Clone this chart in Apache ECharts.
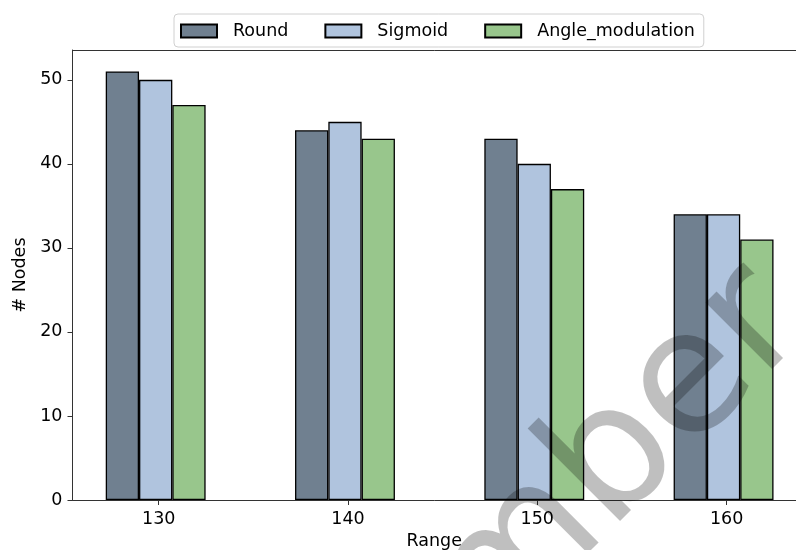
<!DOCTYPE html>
<html>
<head>
<meta charset="utf-8">
<script src="https://cdn.jsdelivr.net/npm/echarts@6/dist/echarts.min.js"></script>
<style>html,body{margin:0;padding:0;background:#fff}#c{width:796px;height:550px}</style>
</head>
<body>
<div id="c"></div>
<script>
const categories = [130, 140, 150, 160];
const roundVals = [51, 44, 43, 34];
const sigmoidVals = [50, 45, 40, 34];
const angleVals = [47, 43, 37, 31];
const yTicks = [0, 10, 20, 30, 40, 50];
const seriesNames = ['Round', 'Sigmoid', 'Angle_modulation'];
const colors = ['#708090', '#b0c4de', '#98c68c'];

const FONT = 'DejaVu Sans';
const FS = 17.5;
const xMin = 125.446, xMax = 163.666, shift = 0.16;

function mk(name, vals, color) {
  return {
    name: name, type: 'bar', xAxisIndex: 1,
    data: categories.map((c, i) => [c, vals[i]]),
    barWidth: 33.3, barGap: '0%',
    itemStyle: { color: color, borderColor: '#000', borderWidth: 1.3 },
    emphasis: { disabled: true }
  };
}

const chart = echarts.init(document.getElementById('c'), null, { renderer: 'canvas' });
chart.setOption({
  animation: false,
  backgroundColor: '#fff',
  textStyle: { fontFamily: FONT },
  grid: { left: 72.5, top: 50, bottom: 50, right: 0, show: false, containLabel: false, outerBoundsMode: 'none' },
  legend: {
    data: seriesNames,
    left: 174, top: 14,
    itemWidth: 36, itemHeight: 13, itemGap: 36,
    padding: [8, 9, 7, 6],
    borderColor: '#d0d0d0', borderWidth: 1, borderRadius: 4,
    backgroundColor: '#fff',
    textStyle: { fontFamily: FONT, fontSize: FS, color: '#000', padding: [0, 0, 0, 11] },
    icon: 'rect'
  },
  xAxis: [{
    type: 'value', min: xMin, max: xMax,
    name: 'Range', nameLocation: 'middle', nameGap: 32,
    nameTextStyle: { fontFamily: FONT, fontSize: FS, color: '#000' },
    axisLine: { show: true, lineStyle: { color: '#333', width: 1 } },
    axisTick: { show: true, inside: false, length: 5, customValues: categories, lineStyle: { color: '#333' } },
    axisLabel: { customValues: categories, margin: 10, fontFamily: FONT, fontSize: FS, color: '#000' },
    splitLine: { show: false }
  }, {
    type: 'value', min: xMin + shift, max: xMax + shift, position: 'top',
    axisLine: { show: true, onZero: false, lineStyle: { color: '#333', width: 1 } },
    axisTick: { show: false }, axisLabel: { show: false },
    splitLine: { show: false }
  }],
  yAxis: {
    type: 'value', min: 0, max: 53.55,
    name: '# Nodes', nameLocation: 'middle', nameGap: 43,
    nameTextStyle: { fontFamily: FONT, fontSize: FS, color: '#000' },
    axisLine: { show: true, lineStyle: { color: '#333', width: 1 } },
    axisTick: { show: true, length: 5, customValues: yTicks, lineStyle: { color: '#333' } },
    axisLabel: { customValues: yTicks, margin: 10, fontFamily: FONT, fontSize: FS, color: '#000' },
    splitLine: { show: false }
  },
  series: [
    mk(seriesNames[0], roundVals, colors[0]),
    mk(seriesNames[1], sigmoidVals, colors[1]),
    mk(seriesNames[2], angleVals, colors[2])
  ],
  graphic: [{
    type: 'text', x: 459, y: 619, rotation: Math.PI / 4, z: 100, silent: true,
    style: { text: 'mber', fontSize: 172, fontFamily: FONT, fill: 'rgba(0,0,0,0.25)', align: 'left', verticalAlign: 'middle' }
  }]
});
</script>
</body>
</html>
